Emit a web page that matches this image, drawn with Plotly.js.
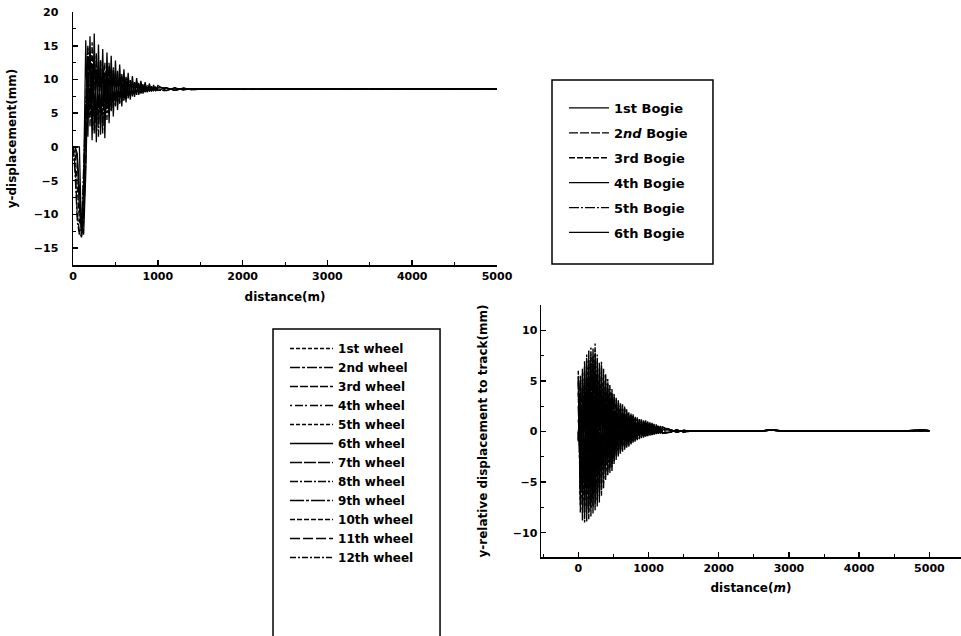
<!DOCTYPE html>
<html>
<head>
<meta charset="utf-8">
<script src="https://cdn.plot.ly/plotly-3.0.1.min.js"></script>
<style>html,body{margin:0;padding:0;background:#fff;}#chart{width:961px;height:636px;}</style>
</head>
<body>
<div id="chart"></div>
<script>
// ---- Top chart: bogie lateral displacement ----
const xTop = [0,25,50,75,100,125,150,175,200,225,250,275,300,325,350,375,400,425,450,475,500,525,550,575,600,625,650,675,700,725,750,775,800,825,850,875,900,925,950,975,1000,
  1100,1200,1300,1400,1600,1800,2000,2500,3000,3500,4000,4500,5000];
const bogie1 = [0,0,0,0,-13.2,-5,15.8,1.5,16.4,1.0,16.8,0.7,15.2,1.8,14.5,1.3,14.0,3.5,13.5,4.5,12.8,5.5,12.2,6.0,11.5,6.6,11.0,7.0,10.5,7.4,10.2,7.7,9.8,7.9,9.6,8.1,9.4,8.2,9.2,8.3,9.1];
const bogie2 = [0,-3,-10,-12.5,-13.4,-11,-2,12,14,3,13,2,12.5,3,12,4.5,11.5,5,11,5.8,10.8,6.2,10.4,6.8,10,7.1,9.8,7.4,9.5,7.7,9.3,7.9,9.1,8.1,9,8.2,8.9,8.3,8.8,8.35,8.75];
const bogie3 = [0,-1,-6,-11,-12,-8,6,14.8,3,15.5,2,14,4,13,3.2,12.5,5,12,5.5,11.5,6,11,6.5,10.6,7,10.2,7.3,9.9,7.6,9.6,7.8,9.4,8,9.2,8.2,9,8.3,8.9,8.35,8.8,8.4];
const bogie4 = [0,0,-2,-9,-12.8,-10,4,11,6,11.5,5.5,11,5.8,10.8,6,10.6,6.5,10.4,6.8,10.2,7,10,7.2,9.8,7.4,9.6,7.6,9.4,7.8,9.2,8,9.1,8.1,9,8.2,8.9,8.3,8.8,8.35,8.75,8.4];
const bogie5 = [0,-4,-11,-13,-12,-3,9,15,5,12,2.5,13.5,1.5,12.8,2,11,4,12.5,5.2,11.8,6.2,11.3,6.4,10.8,6.8,10.4,7.2,10,7.5,9.7,7.7,9.5,7.9,9.3,8.1,9.1,8.2,9,8.3,8.85,8.4];
const bogie6 = [0,0,-1,-7,-11.5,-13,-4,10,12,7,13,4,12,5,11.5,6.5,10.8,6.2,10.5,7,10.1,7.3,9.9,7.5,9.7,7.6,9.5,7.8,9.3,8,9.2,8.1,9.05,8.2,8.95,8.3,8.85,8.35,8.8,8.4,8.75];
const tailTopA = [8.35,8.75,8.45,8.65,8.55,8.6,8.55,8.55,8.6,8.6,8.55,8.6,8.55];
const tailTopB = [8.75,8.4,8.7,8.5,8.6,8.55,8.55,8.6,8.55,8.6,8.6,8.55,8.6];
const bogieNames = ['1st Bogie','2<i>nd</i> Bogie','3rd Bogie','4th Bogie','5th Bogie','6th Bogie'];

// ---- Bottom chart: wheel displacement relative to track ----
const xBot = [0,30,60,90,120,150,180,210,240,270,300,330,360,390,420,450,480,510,540,570,600,630,660,690,720,750,780,810,840,870,900,930,960,990,1020,1050,1080,1110,1140,1170,1200,
  1300,1400,1500,1650,1800,2000,2300,2600,2750,2900,3200,3600,4000,4400,4700,4900,5000];
const wheel1 = [6.0,-8.0,6.2,-9.0,7.6,-8.7,8.3,-8.1,8.7,-7.4,6.8,-6.4,6.2,-4.8,5.2,-4.1,4.2,-3.2,3.4,-2.5,2.9,-2.0,2.5,-1.6,1.9,-1.3,1.7,-1.0,1.4,-0.75,1.2,-0.6,1.1,-0.45,0.9,-0.35,0.75,-0.25,0.6,-0.2,0.45];
const wheel2 = [-1.0,5.6,-8.8,7.0,-8.9,8.0,-8.4,8.2,-7.8,7.6,-7.0,6.9,-5.6,5.7,-4.4,4.6,-3.9,3.8,-2.8,3.1,-2.2,2.7,-1.8,2.2,-1.5,1.8,-1.1,1.5,-0.85,1.3,-0.65,1.15,-0.55,1.0,-0.4,0.85,-0.3,0.7,-0.22,0.55,-0.18];
const wheel3 = [5.0,-6.5,5.2,-7.4,6.3,-7.2,6.8,-6.6,7.0,-6.0,5.6,-5.2,5.0,-3.9,4.2,-3.3,3.4,-2.6,2.8,-2.0,2.4,-1.6,2.0,-1.3,1.6,-1.0,1.4,-0.8,1.15,-0.6,1.0,-0.5,0.9,-0.35,0.75,-0.28,0.6,-0.2,0.5,-0.15,0.38];
const wheel4 = [-0.8,4.6,-7.2,5.8,-7.3,6.6,-6.9,6.7,-6.4,6.2,-5.7,5.6,-4.6,4.7,-3.6,3.8,-3.2,3.1,-2.3,2.5,-1.8,2.2,-1.5,1.8,-1.2,1.5,-0.9,1.2,-0.7,1.05,-0.55,0.95,-0.45,0.8,-0.33,0.7,-0.25,0.58,-0.18,0.45,-0.15];
const wheel5 = [3.8,-5.0,4.0,-5.6,4.8,-5.4,5.2,-5.0,5.4,-4.6,4.3,-4.0,3.9,-3.0,3.3,-2.6,2.7,-2.0,2.2,-1.6,1.8,-1.2,1.6,-1.0,1.2,-0.8,1.1,-0.6,0.9,-0.45,0.75,-0.38,0.7,-0.28,0.56,-0.22,0.47,-0.16,0.38,-0.12,0.28];
const wheel6 = [-0.6,3.4,-5.4,4.3,-5.5,4.9,-5.1,5.0,-4.8,4.6,-4.3,4.2,-3.4,3.5,-2.7,2.8,-2.4,2.3,-1.7,1.9,-1.35,1.65,-1.1,1.35,-0.9,1.1,-0.68,0.92,-0.52,0.8,-0.4,0.7,-0.34,0.62,-0.25,0.52,-0.18,0.43,-0.14,0.34,-0.11];
const wheel7 = [2.5,-3.3,2.6,-3.7,3.1,-3.6,3.4,-3.3,3.6,-3.0,2.8,-2.6,2.5,-2.0,2.1,-1.7,1.7,-1.3,1.4,-1.0,1.2,-0.8,1.0,-0.65,0.78,-0.52,0.7,-0.4,0.58,-0.3,0.5,-0.25,0.45,-0.18,0.37,-0.14,0.31,-0.1,0.25,-0.08,0.18];
const wheel8 = [-0.4,2.3,-3.6,2.9,-3.7,3.3,-3.4,3.4,-3.2,3.1,-2.9,2.8,-2.3,2.3,-1.8,1.9,-1.6,1.6,-1.15,1.3,-0.9,1.1,-0.75,0.9,-0.6,0.74,-0.45,0.62,-0.35,0.53,-0.27,0.47,-0.22,0.41,-0.16,0.35,-0.12,0.29,-0.09,0.23,-0.07];
const wheel9 = [5.5,-7.2,5.8,-8.2,7.0,-8.0,7.6,-7.4,8.0,-6.8,6.2,-5.8,5.6,-4.3,4.7,-3.7,3.8,-2.9,3.1,-2.3,2.6,-1.8,2.3,-1.45,1.75,-1.2,1.55,-0.9,1.28,-0.68,1.1,-0.55,1.0,-0.4,0.82,-0.32,0.68,-0.23,0.55,-0.18,0.42];
const wheel10 = [-0.9,5.1,-8.0,6.4,-8.1,7.3,-7.6,7.5,-7.1,6.9,-6.4,6.3,-5.1,5.2,-4.0,4.2,-3.5,3.5,-2.5,2.8,-2.0,2.5,-1.6,2.0,-1.35,1.65,-1.0,1.37,-0.77,1.18,-0.6,1.05,-0.5,0.9,-0.36,0.77,-0.27,0.64,-0.2,0.5,-0.16];
const wheel11 = [1.2,-1.6,1.3,-1.8,1.5,-1.8,1.7,-1.6,1.8,-1.5,1.4,-1.3,1.2,-1.0,1.0,-0.85,0.85,-0.65,0.7,-0.5,0.6,-0.4,0.5,-0.32,0.4,-0.26,0.35,-0.2,0.28,-0.15,0.25,-0.12,0.22,-0.09,0.18,-0.07,0.15,-0.05,0.12,-0.04,0.09];
const wheel12 = [-0.2,1.1,-1.8,1.4,-1.8,1.6,-1.7,1.7,-1.6,1.5,-1.4,1.4,-1.1,1.15,-0.9,0.95,-0.8,0.8,-0.55,0.62,-0.45,0.55,-0.36,0.45,-0.3,0.37,-0.22,0.3,-0.17,0.26,-0.13,0.23,-0.11,0.2,-0.08,0.17,-0.06,0.14,-0.04,0.11,-0.04];
const tailBotA = [0.2,-0.05,0.1,0.02,0.05,0.03,0.04,0.05,0.15,0.05,0.03,0.04,0.06,0.05,0.08,0.15,0.08];
const tailBotB = [-0.08,0.15,-0.03,0.07,0.03,0.05,0.03,0.05,0.16,0.06,0.04,0.05,0.07,0.04,0.1,0.12,0.07];
const wheelNames = ['1st wheel','2nd wheel','3rd wheel','4th wheel','5th wheel','6th wheel','7th wheel','8th wheel','9th wheel','10th wheel','11th wheel','12th wheel'];

const FONT = 'DejaVu Sans, Verdana, sans-serif';
const bogieY = [bogie1.concat(tailTopA), bogie2.concat(tailTopB), bogie3.concat(tailTopA), bogie4.concat(tailTopB), bogie5.concat(tailTopA), bogie6.concat(tailTopB)];
const bogieDash = ['solid','9px,2px','6px,2px','solid','10px,2px,2px,2px','solid'];
const wheelY = [wheel1.concat(tailBotA), wheel2.concat(tailBotB), wheel3.concat(tailBotA), wheel4.concat(tailBotB), wheel5.concat(tailBotA), wheel6.concat(tailBotB),
  wheel7.concat(tailBotA), wheel8.concat(tailBotB), wheel9.concat(tailBotA), wheel10.concat(tailBotB), wheel11.concat(tailBotA), wheel12.concat(tailBotB)];
const wheelDash = ['4px,2px','10px,2px,3px,2px','8px,2px','2px,3px,8px,2px','4px,2px','solid','12px,2px','8px,2px,2px,2px','14px,2px,3px,2px','5px,2px','10px,3px','6px,2px,2px,2px'];

const traces = [];
bogieY.forEach((y, i) => traces.push({
  x: xTop, y: y, type: 'scatter', mode: 'lines', name: bogieNames[i],
  xaxis: 'x', yaxis: 'y', legend: 'legend', legendgroup: 'b' + i,
  line: {color: '#000', width: 1.3, dash: bogieDash[i]}
}));
wheelY.forEach((y, i) => traces.push({
  x: xBot, y: y, type: 'scatter', mode: 'lines', name: wheelNames[i],
  xaxis: 'x2', yaxis: 'y2', legend: 'legend2',
  line: {color: '#000', width: 1.4, dash: wheelDash[i]}
}));

const tickFont = {family: FONT, size: 11, color: '#000', weight: 700};
const titleFont = {family: FONT, size: 12, color: '#000', weight: 700};
const axisBase = {
  showgrid: false, zeroline: false, showline: true, linecolor: '#000', linewidth: 1.5,
  ticks: 'inside', ticklen: 5, tickwidth: 1.5, tickcolor: '#000', tickfont: tickFont
};

const layout = {
  width: 961, height: 636, autosize: false,
  margin: {l: 0, r: 0, t: 0, b: 0},
  paper_bgcolor: '#fff', plot_bgcolor: '#fff',
  xaxis: Object.assign({}, axisBase, {
    domain: [0.0760, 0.5172], range: [0, 5000], anchor: 'y', tick0: 0, dtick: 1000,
    minor: {ticks: 'inside', ticklen: 3, dtick: 500, tickcolor: '#000', tickwidth: 1},
    title: {text: 'distance(m)', font: titleFont, standoff: 11}
  }),
  yaxis: Object.assign({}, axisBase, {
    domain: [0.5833, 0.9811], range: [-17.5, 20], anchor: 'x', tick0: 0, dtick: 5,
    ticklabelstandoff: 11,
    minor: {ticks: 'inside', ticklen: 3, dtick: 2.5, tickcolor: '#000', tickwidth: 1},
    title: {text: 'y-displacement(mm)', font: titleFont, standoff: 14}
  }),
  xaxis2: Object.assign({}, axisBase, {
    domain: [0.563, 1.0], range: [-530, 5450], anchor: 'y2', tick0: 0, dtick: 1000,
    minor: {ticks: 'inside', ticklen: 3, dtick: 500, tickcolor: '#000', tickwidth: 1},
    title: {text: 'distance(<i>m</i>)', font: titleFont, standoff: 10}
  }),
  yaxis2: Object.assign({}, axisBase, {
    domain: [0.1242, 0.5204], range: [-12.4, 12.5], anchor: 'x2', tick0: 0, dtick: 5,
    minor: {ticks: 'inside', ticklen: 3, dtick: 2.5, tickcolor: '#000', tickwidth: 1},
    title: {text: 'y-relative displacement to track(mm)', font: titleFont, standoff: 22}
  }),
  showlegend: true,
  legend: {
    x: 0.5869, y: 0.8538, xanchor: 'left', yanchor: 'top',
    bgcolor: 'rgba(0,0,0,0)', borderwidth: 0, itemwidth: 40,
    traceorder: 'grouped', tracegroupgap: 5,
    font: {family: FONT, size: 13, color: '#000', weight: 700}
  },
  legend2: {
    x: 0.2966, y: 0.4748, xanchor: 'left', yanchor: 'top',
    bgcolor: 'rgba(0,0,0,0)', borderwidth: 0, itemwidth: 43,
    traceorder: 'normal',
    font: {family: FONT, size: 12, color: '#000', weight: 700}
  },
  shapes: [
    {type: 'rect', xref: 'paper', yref: 'paper', x0: 0.5744, x1: 0.7419, y0: 0.5849, y1: 0.8742,
      line: {color: '#000', width: 1.5}, fillcolor: 'rgba(0,0,0,0)'},
    {type: 'rect', xref: 'paper', yref: 'paper', x0: 0.2841, x1: 0.4579, y0: -0.03, y1: 0.4827,
      line: {color: '#000', width: 1.5}, fillcolor: 'rgba(0,0,0,0)'}
  ]
};

Plotly.newPlot('chart', traces, layout, {displayModeBar: false, staticPlot: true});
</script>
</body>
</html>
